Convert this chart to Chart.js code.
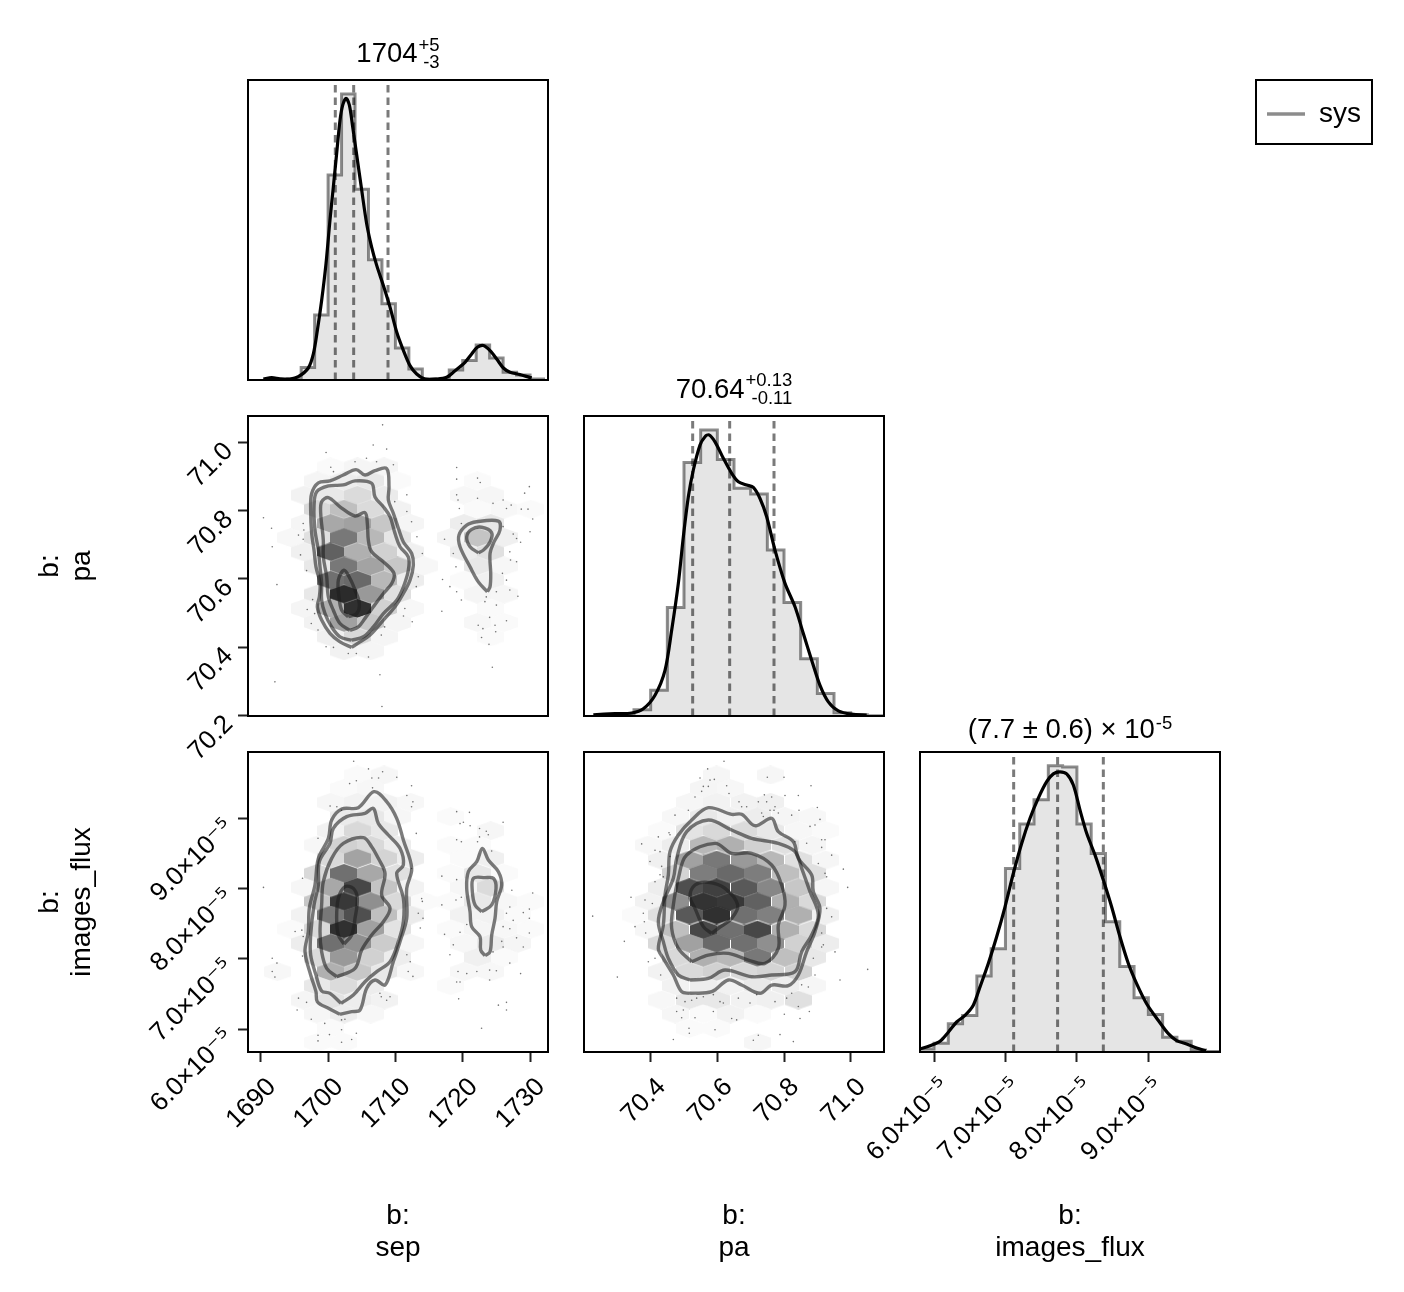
<!DOCTYPE html>
<html>
<head>
<meta charset="utf-8">
<title>corner plot</title>
<script src="https://cdn.jsdelivr.net/npm/chart.js@4/dist/chart.umd.js"></script>
<style>
  @font-face { font-family: "SupGlyphs"; src: local("DejaVu Sans"); unicode-range: U+2070-209F; }
  html, body { margin: 0; padding: 0; background: #fff; }
  body { width: 1404px; height: 1292px; position: relative; overflow: hidden; }
  canvas.panel { position: absolute; left: 0; top: 0; }
  #legendWrap { position: absolute; left: 1255px; top: 79px; width: 114px; height: 62px; border: 2px solid #000; overflow: hidden; }
</style>
</head>
<body>
<canvas class="panel" id="sepHistCanvas" width="1404" height="1292"></canvas>
<canvas class="panel" id="sepPaCanvas" width="1404" height="1292"></canvas>
<canvas class="panel" id="paHistCanvas" width="1404" height="1292"></canvas>
<canvas class="panel" id="sepFluxCanvas" width="1404" height="1292"></canvas>
<canvas class="panel" id="paFluxCanvas" width="1404" height="1292"></canvas>
<canvas class="panel" id="fluxHistCanvas" width="1404" height="1292"></canvas>
<div id="legendWrap"><canvas id="legendBox" width="114" height="124"></canvas></div>
<script>
// flux values are all in units of 1e-5
const sepTicks = [1690, 1700, 1710, 1720, 1730];
const sepTickLabels = ['1690', '1700', '1710', '1720', '1730'];
const paTicks = [70.2, 70.4, 70.6, 70.8, 71.0];
const paTickLabels = ['70.2', '70.4', '70.6', '70.8', '71.0'];
const paXTicks = [70.4, 70.6, 70.8, 71.0];
const paXTickLabels = ['70.4', '70.6', '70.8', '71.0'];
const fluxTicks = [6, 7, 8, 9];
const fluxTickLabels = ['6.0×10⁻⁵', '7.0×10⁻⁵', '8.0×10⁻⁵', '9.0×10⁻⁵'];

const sepTitle = ['1704', '+5', '-3'];
const paTitle = ['70.64', '+0.13', '-0.11'];
const fluxTitle = ['(7.7 ± 0.6) × 10', '-5', ''];
const sepAxisTitle = ['b:', 'sep'];
const paAxisTitle = ['b:', 'pa'];
const fluxAxisTitle = ['b:', 'images_flux'];
const seriesName = 'sys';

const sepQuantiles = [1701.07, 1703.8, 1708.9];
const paQuantiles = [70.526, 70.637, 70.77];
const fluxQuantiles = [7.115, 7.73, 8.37];

const sepEdges = [1694, 1696, 1698, 1700, 1702, 1704, 1706, 1708, 1710, 1712, 1714, 1716, 1718, 1720, 1722, 1724, 1726, 1728, 1730, 1732];
const sepHist = [.003, .042, .217, .683, .953, .636, .401, .254, .107, .037, .004, .002, .033, .065, .117, .073, .026, .017, .003];
const paEdges = [70.3, 70.35, 70.4, 70.45, 70.5, 70.55, 70.6, 70.65, 70.7, 70.75, 70.8, 70.85, 70.9, 70.95, 71.0, 71.05, 71.1];
const paHist = [.002, .021, .086, .362, .845, .953, .855, .759, .74, .553, .378, .191, .075, .011, .004, .001];
const fluxEdges = [5.8, 6.0, 6.2, 6.4, 6.6, 6.8, 7.0, 7.2, 7.4, 7.6, 7.8, 8.0, 8.2, 8.4, 8.6, 8.8, 9.0, 9.2, 9.4, 9.6, 9.8, 10.0];
const fluxHist = [.01, .029, .094, .122, .253, .344, .612, .76, .841, .954, .95, .76, .662, .434, .285, .181, .125, .049, .036, .007, .002];

const sepKde = [[1690.38,.003],[1691.62,.008],[1692.85,.004],[1694.34,.003],[1695.58,.011],[1697.06,.04],[1697.81,.087],[1698.4,.165],[1699.04,.265],[1699.69,.388],[1700.28,.533],[1700.78,.644],[1701.27,.755],[1701.77,.866],[1702.17,.916],[1702.66,.939],[1703.16,.916],[1703.65,.844],[1704.25,.75],[1704.99,.633],[1705.73,.521],[1706.47,.443],[1707.22,.382],[1708.21,.315],[1709.2,.243],[1710.19,.16],[1711.18,.099],[1712.17,.048],[1713.16,.02],[1714.4,.003],[1716.13,.003],[1717.62,.009],[1718.86,.031],[1720.34,.059],[1721.33,.087],[1722.17,.109],[1723.07,.115],[1724.06,.098],[1725.05,.07],[1726.04,.04],[1727.03,.026],[1728.51,.018],[1730.25,.007]];
const paKde = [[70.228,.004],[70.293,.008],[70.343,.01],[70.378,.024],[70.413,.069],[70.443,.152],[70.463,.286],[70.483,.442],[70.498,.597],[70.513,.731],[70.528,.82],[70.548,.903],[70.563,.931],[70.575,.937],[70.593,.914],[70.618,.859],[70.643,.809],[70.663,.781],[70.688,.77],[70.708,.762],[70.728,.725],[70.748,.664],[70.773,.553],[70.803,.442],[70.833,.364],[70.858,.275],[70.883,.186],[70.908,.102],[70.933,.047],[70.963,.017],[71.003,.006],[71.048,.003]];
const fluxKde = [[5.804,.01],[5.944,.021],[6.084,.036],[6.2,.066],[6.317,.1],[6.434,.122],[6.55,.156],[6.644,.217],[6.76,.295],[6.877,.384],[6.994,.484],[7.11,.595],[7.227,.695],[7.344,.779],[7.46,.846],[7.577,.901],[7.67,.927],[7.763,.934],[7.857,.927],[7.95,.89],[8.043,.807],[8.137,.729],[8.253,.657],[8.37,.573],[8.486,.484],[8.603,.384],[8.72,.295],[8.836,.228],[8.976,.161],[9.14,.105],[9.28,.061],[9.396,.038],[9.536,.027],[9.676,.013],[9.807,.004]];

// contours, outermost first, then the small second mode near sep 1723
const sepPaContour1 = [[1703.5,70.399],[1701.77,70.415],[1700.28,70.44],[1699.04,70.479],[1698.4,70.518],[1698.7,70.547],[1698.8,70.586],[1698.2,70.635],[1697.91,70.684],[1697.56,70.733],[1697.41,70.801],[1697.56,70.85],[1698.55,70.881],[1700.28,70.887],[1702.26,70.904],[1704.15,70.92],[1705.48,70.904],[1706.97,70.917],[1708.7,70.923],[1709.05,70.87],[1708.95,70.831],[1709.69,70.792],[1710.44,70.748],[1711.18,70.708],[1712.42,70.674],[1712.67,70.64],[1712.17,70.596],[1711.18,70.557],[1709.94,70.518],[1708.21,70.479],[1706.23,70.435],[1704.74,70.415]];
const sepPaContour2 = [[1703.5,70.42],[1701.77,70.43],[1700.53,70.459],[1699.54,70.498],[1699.04,70.537],[1699.04,70.586],[1698.8,70.635],[1698.55,70.684],[1698.05,70.743],[1697.91,70.811],[1698.3,70.855],[1700.04,70.872],[1702.26,70.875],[1704,70.887],[1706.47,70.88],[1706.97,70.84],[1708.21,70.811],[1709.2,70.782],[1709.94,70.733],[1710.68,70.694],[1711.92,70.664],[1711.92,70.625],[1711.18,70.576],[1710.19,70.537],[1708.21,70.498],[1706.72,70.459],[1705.24,70.43]];
const sepPaContour3 = [[1703.25,70.449],[1701.77,70.469],[1700.78,70.508],[1700.04,70.547],[1699.79,70.606],[1699.29,70.664],[1699.29,70.713],[1698.9,70.792],[1699.04,70.826],[1700.04,70.838],[1701.77,70.811],[1704,70.784],[1705.48,70.794],[1705.83,70.762],[1705.98,70.713],[1706.47,70.679],[1708.21,70.65],[1709.79,70.616],[1709.45,70.586],[1708.21,70.557],[1706.72,70.518],[1705.48,70.484],[1704.49,70.459]];
const sepPaContour4 = [[1703,70.489],[1702.02,70.508],[1701.62,70.547],[1701.52,70.596],[1702.36,70.625],[1703.25,70.601],[1704,70.567],[1704.64,70.528],[1704.25,70.498]];
const sepPaContour5 = [[1723.66,70.562],[1722.32,70.591],[1721.09,70.635],[1719.6,70.694],[1719.45,70.728],[1720.59,70.757],[1722.08,70.767],[1725.3,70.769],[1725.54,70.743],[1724.65,70.708],[1724.06,70.674],[1724.16,70.616],[1724.06,70.577]];
const sepPaContour6 = [[1722.32,70.676],[1721.09,70.694],[1720.59,70.723],[1721.33,70.745],[1722.82,70.751],[1724.31,70.735],[1724.06,70.708],[1723.07,70.684]];

const sepFluxContour1 = [[1701.77,6.209],[1700.04,6.295],[1698.4,6.39],[1698.2,6.532],[1697.41,6.77],[1696.57,7.103],[1697.06,7.388],[1697.21,7.721],[1698.05,8.054],[1698.55,8.434],[1700.04,8.72],[1700.53,8.981],[1702.02,9.138],[1704.49,9.157],[1706.82,9.385],[1708.7,9.243],[1710.19,9.005],[1711.18,8.696],[1712.42,8.292],[1711.68,8.006],[1711.68,7.578],[1710.68,7.246],[1709.69,6.96],[1708.46,6.627],[1706.97,6.699],[1705.73,6.58],[1704.74,6.271],[1703.5,6.247]];
const sepFluxContour2 = [[1701.92,6.366],[1700.28,6.509],[1699.04,6.542],[1698.2,6.77],[1697.41,7.055],[1697.41,7.341],[1697.91,7.769],[1698.55,8.054],[1698.7,8.387],[1700.28,8.648],[1700.78,8.862],[1702.76,9.029],[1705.48,9.076],[1706.72,9.148],[1707.46,8.934],[1708.95,8.767],[1710.68,8.577],[1711.18,8.339],[1710.19,8.22],[1711.18,7.864],[1711.18,7.531],[1710.44,7.246],[1709.2,6.96],[1707.22,6.818],[1705.48,6.675],[1703.75,6.485]];
const sepFluxContour3 = [[1701.27,6.746],[1699.79,6.865],[1699.04,7.103],[1698.8,7.388],[1699.04,7.769],[1699.29,8.101],[1700.53,8.434],[1702.26,8.648],[1705.24,8.729],[1706.47,8.601],[1707.46,8.434],[1708.46,8.22],[1707.96,7.911],[1709.2,7.721],[1708.21,7.531],[1706.47,7.341],[1704.99,7.127],[1704,6.865]];
const sepFluxContour4 = [[1702.36,7.212],[1701.52,7.341],[1701.27,7.578],[1701.52,7.864],[1702.51,8.03],[1703.75,8.006],[1704.34,7.864],[1704,7.578],[1703.5,7.341]];
const sepFluxContour5 = [[1723.31,7.046],[1722.67,7.127],[1722.57,7.317],[1721.33,7.46],[1721.09,7.673],[1720.59,8.006],[1720.84,8.244],[1722.08,8.387],[1722.92,8.577],[1723.81,8.41],[1725.3,8.244],[1725.79,8.054],[1725.05,7.816],[1724.8,7.578],[1724.31,7.341],[1724.06,7.103]];
const sepFluxContour6 = [[1722.82,7.673],[1721.83,7.769],[1721.43,7.959],[1721.58,8.149],[1723.31,8.159],[1724.55,8.149],[1724.95,8.006],[1724.31,7.769]];

const paFluxContour1 = [[70.518,6.509],[70.493,6.532],[70.468,6.77],[70.438,7.008],[70.423,7.15],[70.438,7.483],[70.443,7.911],[70.453,8.197],[70.458,8.529],[70.483,8.767],[70.523,8.981],[70.573,9.157],[70.643,9.062],[70.673,9.062],[70.713,8.9],[70.763,9.005],[70.783,8.815],[70.828,8.672],[70.843,8.434],[70.883,8.197],[70.888,7.959],[70.908,7.721],[70.893,7.388],[70.868,7.103],[70.843,6.77],[70.813,6.618],[70.763,6.627],[70.728,6.509],[70.673,6.627],[70.633,6.699],[70.583,6.532]];
const paFluxContour2 = [[70.518,6.699],[70.483,6.77],[70.453,7.008],[70.438,7.246],[70.423,7.531],[70.438,7.816],[70.468,8.149],[70.478,8.434],[70.508,8.815],[70.573,8.981],[70.643,8.838],[70.703,8.72],[70.783,8.648],[70.833,8.529],[70.853,8.292],[70.878,7.959],[70.903,7.626],[70.883,7.341],[70.853,7.103],[70.833,6.818],[70.763,6.77],[70.703,6.746],[70.623,6.841],[70.573,6.722]];
const paFluxContour3 = [[70.523,6.96],[70.483,7.15],[70.463,7.436],[70.468,7.769],[70.483,8.149],[70.508,8.482],[70.593,8.648],[70.643,8.506],[70.703,8.506],[70.763,8.339],[70.793,8.054],[70.803,7.769],[70.783,7.483],[70.783,7.15],[70.743,6.936],[70.693,6.984],[70.633,7.079],[70.573,7.055]];
const paFluxContour4 = [[70.583,7.364],[70.558,7.46],[70.533,7.721],[70.518,7.887],[70.533,8.054],[70.573,8.092],[70.623,8.006],[70.661,7.769],[70.643,7.578],[70.603,7.436]];

// hexbin cells: x, y, darkness (0 white .. 1 black)
const sepPaHex = [
  [1700.38,70.928,.02],[1704.34,70.928,.04],[1708.31,70.928,.04],
  [1698.4,70.887,.04],[1702.36,70.887,.07],[1706.33,70.887,.09],[1710.29,70.887,.02],
  [1696.42,70.845,.05],[1700.38,70.845,.09],[1704.34,70.845,.14],[1708.31,70.845,.08],
  [1698.4,70.804,.15],[1702.36,70.804,.25],[1706.33,70.804,.14],[1710.29,70.804,.05],
  [1696.42,70.762,.04],[1700.38,70.762,.34],[1704.34,70.762,.37],[1708.31,70.762,.22],[1712.27,70.762,.04],
  [1694.44,70.721,.03],[1698.4,70.721,.12],[1702.36,70.721,.53],[1706.33,70.721,.28],[1710.29,70.721,.1],
  [1696.42,70.679,.06],[1700.38,70.679,.62],[1704.34,70.679,.31],[1708.31,70.679,.18],[1712.27,70.679,.06],
  [1698.4,70.638,.09],[1702.36,70.638,.53],[1706.33,70.638,.36],[1710.29,70.638,.22],[1714.25,70.638,.03],
  [1700.38,70.596,.56],[1704.34,70.596,.59],[1708.31,70.596,.28],[1712.27,70.596,.07],
  [1698.4,70.555,.09],[1702.36,70.555,.83],[1706.33,70.555,.4],[1710.29,70.555,.12],
  [1696.42,70.513,.04],[1700.38,70.513,.31],[1704.34,70.513,.81],[1708.31,70.513,.18],[1712.27,70.513,.03],
  [1698.4,70.472,.05],[1702.36,70.472,.37],[1706.33,70.472,.22],[1710.29,70.472,.04],
  [1700.38,70.43,.06],[1704.34,70.43,.15],[1708.31,70.43,.04],
  [1702.36,70.389,.05],[1706.33,70.389,.04],
  [1722.17,70.887,.02],[1720.19,70.845,.03],[1724.16,70.845,.035],[1722.17,70.804,.02],[1726.14,70.804,.03],[1730.1,70.804,.02],
  [1720.19,70.762,.07],[1724.16,70.762,.09],[1718.21,70.721,.04],[1722.17,70.721,.23],[1726.14,70.721,.06],
  [1720.19,70.679,.07],[1724.16,70.679,.12],[1722.17,70.638,.09],[1726.14,70.638,.03],
  [1720.19,70.596,.02],[1724.16,70.596,.06],[1722.17,70.555,.04],[1726.14,70.555,.035],
  [1724.16,70.513,.02],[1722.17,70.472,.03],[1726.14,70.472,.02],[1724.16,70.43,.02]
];
const sepFluxHex = [
  [1704.34,9.623,.02],[1708.31,9.623,.035],[1702.36,9.433,.02],[1706.33,9.433,.03],
  [1700.38,9.233,.035],[1704.34,9.233,.05],[1708.31,9.233,.05],[1712.27,9.233,.03],
  [1702.36,9.029,.08],[1706.33,9.029,.09],[1710.29,9.029,.035],
  [1700.38,8.829,.05],[1704.34,8.829,.15],[1708.31,8.829,.09],
  [1698.4,8.624,.03],[1702.36,8.624,.18],[1706.33,8.624,.15],[1710.29,8.624,.07],
  [1700.38,8.434,.15],[1704.34,8.434,.36],[1708.31,8.434,.17],[1712.27,8.434,.07],
  [1698.4,8.22,.15],[1702.36,8.22,.56],[1706.33,8.22,.34],[1710.29,8.22,.12],
  [1696.42,8.021,.035],[1700.38,8.021,.34],[1704.34,8.021,.72],[1708.31,8.021,.23],[1712.27,8.021,.05],
  [1698.4,7.816,.22],[1702.36,7.816,.78],[1706.33,7.816,.44],[1710.29,7.816,.15],[1714.25,7.816,.02],
  [1696.42,7.626,.05],[1700.38,7.626,.53],[1704.34,7.626,.69],[1708.31,7.626,.25],[1712.27,7.626,.08],
  [1694.44,7.426,.02],[1698.4,7.426,.15],[1702.36,7.426,.81],[1706.33,7.426,.37],[1710.29,7.426,.11],
  [1696.42,7.222,.07],[1700.38,7.222,.56],[1704.34,7.222,.44],[1708.31,7.222,.2],[1712.27,7.222,.035],
  [1698.4,7.022,.14],[1702.36,7.022,.4],[1706.33,7.022,.18],[1710.29,7.022,.07],
  [1692.46,6.818,.03],[1700.38,6.818,.31],[1704.34,6.818,.22],[1708.31,6.818,.09],[1712.27,6.818,.03],
  [1698.4,6.618,.09],[1702.36,6.618,.14],[1706.33,6.618,.07],
  [1696.42,6.413,.04],[1700.38,6.413,.11],[1704.34,6.413,.07],[1708.31,6.413,.05],
  [1698.4,6.214,.035],[1702.36,6.214,.07],[1706.33,6.214,.03],
  [1700.38,6.009,.02],[1698.4,5.809,.02],[1702.36,5.809,.02],
  [1718.21,9.029,.02],[1724.16,8.829,.035],[1718.21,8.624,.02],[1722.17,8.624,.02],
  [1720.19,8.434,.02],[1724.16,8.434,.06],[1718.21,8.22,.02],[1722.17,8.22,.09],[1726.14,8.22,.02],
  [1720.19,8.021,.035],[1724.16,8.021,.14],[1718.21,7.816,.02],[1722.17,7.816,.09],[1726.14,7.816,.03],[1730.1,7.816,.02],
  [1720.19,7.626,.05],[1724.16,7.626,.05],[1728.12,7.626,.02],
  [1718.21,7.426,.02],[1722.17,7.426,.04],[1726.14,7.426,.03],[1730.1,7.426,.02],
  [1720.19,7.222,.03],[1724.16,7.222,.08],[1728.12,7.222,.04],[1722.17,7.022,.06],[1726.14,7.022,.02],
  [1720.19,6.818,.03],[1724.16,6.818,.03],[1718.21,6.618,.02]
];
const paFluxHex = [
  [70.598,9.623,.035],[70.76,9.623,.035],[70.558,9.433,.04],[70.638,9.433,.03],
  [70.516,9.233,.035],[70.598,9.233,.05],[70.68,9.233,.05],[70.76,9.233,.06],
  [70.475,9.029,.03],[70.558,9.029,.09],[70.638,9.029,.06],[70.72,9.029,.07],[70.803,9.029,.04],[70.885,9.029,.03],
  [70.433,8.829,.02],[70.516,8.829,.11],[70.598,8.829,.15],[70.68,8.829,.14],[70.76,8.829,.09],[70.843,8.829,.03],[70.925,8.829,.02],
  [70.393,8.624,.03],[70.475,8.624,.07],[70.558,8.624,.28],[70.638,8.624,.31],[70.72,8.624,.18],[70.803,8.624,.12],[70.885,8.624,.04],
  [70.433,8.41,.06],[70.516,8.41,.37],[70.598,8.41,.53],[70.68,8.41,.4],[70.76,8.41,.28],[70.843,8.41,.12],[70.925,8.41,.035],
  [70.475,8.22,.17],[70.558,8.22,.51],[70.638,8.22,.59],[70.72,8.22,.51],[70.803,8.22,.25],[70.885,8.22,.12],
  [70.433,8.016,.07],[70.516,8.016,.69],[70.598,8.016,.75],[70.68,8.016,.65],[70.76,8.016,.47],[70.843,8.016,.22],[70.925,8.016,.035],
  [70.393,7.816,.05],[70.475,7.816,.44],[70.558,7.816,.8],[70.638,7.816,.78],[70.72,7.816,.62],[70.803,7.816,.31],[70.885,7.816,.15],
  [70.353,7.626,.02],[70.433,7.626,.12],[70.516,7.626,.65],[70.598,7.626,.81],[70.68,7.626,.56],[70.76,7.626,.5],[70.843,7.626,.31],[70.925,7.626,.06],
  [70.393,7.412,.035],[70.475,7.412,.25],[70.558,7.412,.72],[70.638,7.412,.56],[70.72,7.412,.72],[70.803,7.412,.31],[70.885,7.412,.15],
  [70.433,7.222,.15],[70.516,7.222,.37],[70.598,7.222,.59],[70.68,7.222,.56],[70.76,7.222,.44],[70.843,7.222,.18],[70.925,7.222,.07],
  [70.475,7.022,.15],[70.558,7.022,.31],[70.638,7.022,.28],[70.72,7.022,.53],[70.803,7.022,.25],[70.885,7.022,.09],
  [70.433,6.818,.05],[70.516,6.818,.15],[70.598,6.818,.18],[70.68,6.818,.15],[70.76,6.818,.17],[70.843,6.818,.18],
  [70.475,6.618,.05],[70.558,6.618,.07],[70.638,6.618,.05],[70.72,6.618,.09],[70.803,6.618,.07],[70.885,6.618,.035],
  [70.433,6.413,.03],[70.516,6.413,.09],[70.598,6.413,.09],[70.68,6.413,.05],[70.76,6.413,.06],[70.843,6.413,.12],
  [70.475,6.214,.035],[70.558,6.214,.02],[70.638,6.214,.05],[70.72,6.214,.02],
  [70.516,6.009,.02],[70.598,6.009,.02],[70.72,5.809,.035]
];

// single posterior samples outside the contours
const sepPaDots = [[1708.1,71.051],[1706.7,70.992],[1708.7,70.98],[1699.7,70.97],[1705.7,70.953],[1704,70.943],[1709.7,70.934],[1700.4,70.927],[1700.8,70.914],[1707.2,70.943],[1690.4,70.779],[1691.6,70.748],[1691.7,70.694],[1696.3,70.762],[1696.4,70.743],[1695.6,70.728],[1696.3,70.716],[1695.9,70.67],[1692.4,70.583],[1696.8,70.624],[1697.7,70.539],[1696.9,70.51],[1698,70.498],[1697.5,70.469],[1698.5,70.45],[1699.7,70.401],[1700.8,70.399],[1703,70.381],[1704.2,70.381],[1706,70.371],[1707.7,70.319],[1692.1,70.298],[1708,70.226],[1711.7,70.846],[1709.9,70.826],[1711.7,70.797],[1712.4,70.767],[1713.2,70.723],[1714,70.674],[1713.4,70.606],[1713.1,70.577],[1711.4,70.513],[1711.2,70.491],[1712.5,70.474],[1708.4,70.459],[1707.9,70.435],[1719.1,70.926],[1719.1,70.892],[1722.2,70.895],[1722.6,70.882],[1729.9,70.87],[1729.2,70.851],[1719.1,70.846],[1719.3,70.831],[1719.5,70.806],[1722.2,70.836],[1724.5,70.821],[1726,70.831],[1727.2,70.816],[1726.5,70.806],[1728.7,70.804],[1729.7,70.804],[1730.4,70.775],[1719.8,70.762],[1726,70.753],[1717.3,70.716],[1727.5,70.731],[1730,70.738],[1728,70.718],[1728.6,70.707],[1718.6,70.674],[1727,70.679],[1727.1,70.655],[1719,70.635],[1728,70.65],[1725.9,70.616],[1717,70.598],[1726.5,70.596],[1718.1,70.577],[1719.1,70.562],[1719.8,70.538],[1727,70.567],[1728.2,70.549],[1725,70.562],[1723.5,70.547],[1723.3,70.533],[1725,70.523],[1716.9,70.505],[1724,70.487],[1726.5,70.477],[1722.3,70.464],[1723,70.454],[1724.8,70.464],[1724.9,70.445],[1722.8,70.428],[1723.9,70.408],[1724.4,70.341]];
const sepFluxDots = [[1703.8,9.82],[1706,9.71],[1708.1,9.67],[1707.5,9.58],[1706.5,9.58],[1704.2,9.54],[1703.2,9.5],[1710.2,9.59],[1712.4,9.47],[1706.6,9.44],[1711.7,9.33],[1712.6,9.24],[1712.4,9.17],[1700.3,9.18],[1702,9.12],[1701.3,9.17],[1713.1,8.79],[1698.5,8.72],[1690.4,8.02],[1696.2,8.15],[1691.7,7.01],[1692.4,6.94],[1691.7,6.82],[1692.1,6.74],[1696.1,7.41],[1695.1,7.39],[1696.3,7.32],[1696.2,7.04],[1713.9,7.86],[1714,7.82],[1713.4,7.65],[1714.1,7.58],[1713.7,7.44],[1712.4,8.29],[1711.7,7.06],[1712.2,6.96],[1711.9,6.82],[1712.6,6.75],[1707.7,6.51],[1707.9,6.46],[1709.2,6.46],[1708.7,6.41],[1695.6,6.44],[1696.8,6.38],[1695.4,6.27],[1697.5,6.14],[1699.5,6.08],[1702,6.13],[1702.5,6.14],[1704.2,5.94],[1702,5.99],[1700.2,5.92],[1698.5,5.91],[1698.5,5.83],[1703.5,5.85],[1702,5.81],[1719.1,9.1],[1721,9.09],[1719.6,8.93],[1720.1,8.95],[1721.1,8.9],[1722.5,8.86],[1723.5,8.82],[1726,8.95],[1722.5,8.74],[1723.8,8.77],[1719.1,8.7],[1719.8,8.67],[1722.2,8.67],[1724.3,8.54],[1716.9,8.18],[1719.1,8.13],[1727.3,7.98],[1730.4,7.94],[1719.8,7.88],[1719,7.84],[1716.9,7.77],[1727,7.74],[1729.9,7.71],[1726.5,7.65],[1729,7.66],[1727.5,7.55],[1729.9,7.58],[1720.6,7.49],[1719.6,7.38],[1717.3,7.35],[1726,7.46],[1727,7.43],[1728,7.3],[1729.9,7.37],[1725.8,7.25],[1726,7.17],[1718.6,7.2],[1724.5,7.1],[1729,7.17],[1718.1,7.06],[1727,6.94],[1719.3,6.82],[1720.6,6.79],[1722.1,6.82],[1724,6.84],[1725,6.83],[1728.6,6.79],[1724,6.7],[1719.1,6.67],[1719.6,6.67],[1719.4,6.43],[1725.3,6.34],[1726.5,6.38],[1726.5,6.27],[1722.8,6.01]];
const paFluxDots = [[70.62,9.82],[70.571,9.71],[70.548,9.58],[70.578,9.55],[70.591,9.56],[70.75,9.59],[70.8,9.59],[70.881,9.47],[70.558,9.46],[70.573,9.46],[70.628,9.47],[70.553,9.39],[70.533,9.31],[70.635,9.36],[70.741,9.34],[70.763,9.31],[70.803,9.33],[70.843,9.33],[70.665,9.24],[70.673,9.17],[70.688,9.17],[70.723,9.24],[70.748,9.24],[70.773,9.17],[70.77,9.12],[70.783,9.08],[70.733,9.08],[70.758,9.12],[70.738,9.03],[70.823,9.05],[70.9,9.16],[70.908,8.99],[70.845,9.12],[70.513,9.12],[70.473,9.05],[70.893,8.91],[70.878,8.89],[70.455,8.8],[70.458,8.77],[70.423,8.74],[70.373,8.64],[70.413,8.55],[70.428,8.53],[70.398,8.39],[70.458,8.46],[70.433,8.32],[70.428,8.2],[70.438,8.17],[70.833,8.67],[70.868,8.65],[70.913,8.7],[70.923,8.7],[70.913,8.59],[70.943,8.48],[70.903,8.36],[70.978,8.28],[70.923,8.22],[70.928,8.17],[70.991,8.02],[70.413,8.1],[70.341,7.88],[70.383,7.84],[70.405,7.79],[70.378,7.65],[70.381,7.53],[70.226,7.61],[70.353,7.46],[70.385,7.37],[70.321,7.25],[70.393,6.96],[70.43,6.77],[70.3,6.74],[70.413,7.01],[70.928,7.72],[70.943,7.6],[70.913,7.37],[70.918,7.2],[70.953,7.1],[70.888,7.01],[70.913,7.17],[71.051,6.85],[70.968,6.7],[70.893,6.77],[70.873,6.6],[70.853,6.63],[70.823,6.51],[70.808,6.44],[70.843,6.32],[70.801,6.21],[70.876,6.25],[70.848,6.15],[70.503,6.39],[70.523,6.41],[70.538,6.44],[70.478,6.44],[70.498,6.27],[70.478,6.25],[70.493,6.16],[70.533,6.16],[70.515,6.01],[70.516,5.94],[70.468,5.85],[70.558,6.46],[70.588,6.49],[70.618,6.37],[70.663,6.44],[70.698,6.37],[70.718,6.49],[70.773,6.39],[70.588,6.25],[70.643,6.15],[70.658,6.13],[70.608,6.39],[70.708,5.84],[70.723,5.91],[70.788,5.92],[70.828,5.82],[70.593,5.99]];

// axis limits
const sepRange = [1688.1, 1732.67];
const paYRange = [70.198, 71.077];
const paXRange = [70.2, 71.1];
const fluxYRange = [5.672, 9.951];
const fluxXRange = [5.804, 10.003];

const FONT = '"SupGlyphs", "Liberation Sans", Arial, sans-serif';
const panelSize = 300;
const contourColor = 'rgba(30,30,30,0.58)';

Chart.defaults.font.family = FONT;
Chart.defaults.color = '#000';

var hexCache = {};
function hexImage(darkness) {
    if (hexCache[darkness]) return hexCache[darkness];
    var c = document.createElement('canvas');
    c.width = 27;
    c.height = 19;
    var g = c.getContext('2d');
    var v = Math.round(255 * (1 - darkness));
    g.fillStyle = 'rgb(' + v + ',' + v + ',' + v + ')';
    g.beginPath();
    g.moveTo(13.5, 0);
    g.lineTo(27, 4.75);
    g.lineTo(27, 14.25);
    g.lineTo(13.5, 19);
    g.lineTo(0, 14.25);
    g.lineTo(0, 4.75);
    g.closePath();
    g.fill();
    hexCache[darkness] = c;
    return c;
}

function toXY(pairs) {
    return pairs.map(function(p) { return {x: p[0], y: p[1]}; });
}

function contourSet(pairs) {
    return {
        data: toXY(pairs.concat([pairs[0]])),
        showLine: true,
        pointRadius: 0,
        borderColor: contourColor,
        borderWidth: 3.4,
        tension: 0.35,
        fill: false
    };
}

function dotSet(pairs) {
    return {
        data: toXY(pairs),
        pointRadius: 0.8,
        borderWidth: 0,
        backgroundColor: 'rgba(0,0,0,0.55)'
    };
}

function hexSet(cells) {
    return {
        data: cells.map(function(c) { return {x: c[0], y: c[1], d: c[2]}; }),
        pointRadius: 13,
        pointStyle: function(ctx) { return hexImage(ctx.raw.d); }
    };
}

function histSets(edges, heights, kde, quantiles) {
    var steps = [{x: edges[0], y: 0}];
    heights.forEach(function(h, i) { steps.push({x: edges[i], y: h}); });
    steps.push({x: edges[edges.length - 1], y: 0});
    var sets = [{
        data: toXY(kde),
        showLine: true,
        pointRadius: 0,
        borderColor: '#000',
        borderWidth: 3.2,
        tension: 0.3
    }];
    quantiles.forEach(function(q) {
        sets.push({
            data: [{x: q, y: 0}, {x: q, y: 1}],
            showLine: true,
            pointRadius: 0,
            borderColor: 'rgba(0,0,0,0.52)',
            borderWidth: 3,
            borderDash: [7.5, 5]
        });
    });
    sets.push({
        data: steps,
        showLine: true,
        stepped: true,
        pointRadius: 0,
        borderColor: 'rgba(0,0,0,0.45)',
        borderWidth: 3,
        fill: 'origin',
        backgroundColor: 'rgba(0,0,0,0.1)'
    });
    return sets;
}

// frame around the plot area, plus the stacked title with +/- errors
function framePlugin(title, base, supUp, subDown) {
    return {
        id: 'frame',
        afterDraw: function(chart) {
            var a = chart.chartArea;
            var ctx = chart.ctx;
            ctx.save();
            ctx.strokeStyle = '#000';
            ctx.lineWidth = 2;
            ctx.strokeRect(a.left, a.top, a.right - a.left, a.bottom - a.top);
            if (title) {
                ctx.fillStyle = '#000';
                ctx.textBaseline = 'alphabetic';
                ctx.font = '27.5px ' + FONT;
                var mainW = ctx.measureText(title[0]).width;
                ctx.font = '18.5px ' + FONT;
                var smallW = Math.max(ctx.measureText(title[1]).width, ctx.measureText(title[2]).width);
                var x0 = (a.left + a.right) / 2 - (mainW + 1 + smallW) / 2;
                var y0 = a.top - base;
                ctx.textAlign = 'left';
                ctx.font = '27.5px ' + FONT;
                ctx.fillText(title[0], x0, y0);
                ctx.textAlign = 'right';
                ctx.font = '18.5px ' + FONT;
                ctx.fillText(title[1], x0 + mainW + 1 + smallW, y0 - supUp);
                ctx.fillText(title[2], x0 + mainW + 1 + smallW, y0 + subDown);
            }
            ctx.restore();
        }
    };
}

function axisOptions(range, ticks, labels, axisTitle, isX) {
    var opts = {
        type: 'linear',
        min: range[0],
        max: range[1],
        display: !!ticks
    };
    if (!ticks) return opts;
    opts.afterBuildTicks = function(scale) {
        scale.ticks = ticks.map(function(v) { return {value: v}; });
    };
    if (isX) {
        opts.afterFit = function(scale) { scale.height = 212; };
    } else {
        opts.afterFit = function(scale) { scale.width = 214; };
    }
    opts.grid = {drawOnChartArea: false, drawTicks: true, tickLength: 10, tickWidth: 2, tickColor: '#222'};
    opts.border = {display: false};
    opts.ticks = {
        autoSkip: false,
        minRotation: 45,
        maxRotation: 45,
        padding: isX ? 10 : 9,
        labelOffset: isX ? 11 : 5,
        color: '#000',
        font: {size: 26},
        callback: function(v, i) { return labels[i]; }
    };
    opts.title = {
        display: true,
        text: axisTitle,
        color: '#000',
        font: {size: 28, lineHeight: 32 / 28},
        padding: 0
    };
    return opts;
}

function makePanel(id, left, top, xAxis, yAxis, datasets, plugin) {
    var hasX = xAxis.display;
    var hasY = yAxis.display;
    return new Chart(document.getElementById(id), {
        type: 'scatter',
        data: {datasets: datasets},
        options: {
            responsive: false,
            animation: false,
            events: [],
            layout: {
                padding: {
                    left: left - (hasY ? 214 : 0),
                    top: top,
                    right: 1404 - left - panelSize,
                    bottom: 1292 - top - panelSize - (hasX ? 212 : 0)
                }
            },
            plugins: {legend: {display: false}, tooltip: {enabled: false}},
            scales: {x: xAxis, y: yAxis}
        },
        plugins: [plugin]
    });
}

function drawAll() {
    var histY = {type: 'linear', min: 0, max: 1, display: false};

    makePanel('sepHistCanvas', 248, 80,
        axisOptions(sepRange), histY,
        histSets(sepEdges, sepHist, sepKde, sepQuantiles),
        framePlugin(sepTitle, 18, 11, 5.5));

    makePanel('paHistCanvas', 584, 416,
        axisOptions(paXRange), histY,
        histSets(paEdges, paHist, paKde, paQuantiles),
        framePlugin(paTitle, 18, 12, 5.5));

    makePanel('fluxHistCanvas', 920, 752,
        axisOptions(fluxXRange, fluxTicks, fluxTickLabels, fluxAxisTitle, true), histY,
        histSets(fluxEdges, fluxHist, fluxKde, fluxQuantiles),
        framePlugin(fluxTitle, 14, 9.5, 0));

    makePanel('sepPaCanvas', 248, 416,
        axisOptions(sepRange),
        axisOptions(paYRange, paTicks, paTickLabels, paAxisTitle, false),
        [sepPaContour1, sepPaContour2, sepPaContour3, sepPaContour4, sepPaContour5, sepPaContour6].map(contourSet)
            .concat([dotSet(sepPaDots), hexSet(sepPaHex)]),
        framePlugin());

    makePanel('sepFluxCanvas', 248, 752,
        axisOptions(sepRange, sepTicks, sepTickLabels, sepAxisTitle, true),
        axisOptions(fluxYRange, fluxTicks, fluxTickLabels, fluxAxisTitle, false),
        [sepFluxContour1, sepFluxContour2, sepFluxContour3, sepFluxContour4, sepFluxContour5, sepFluxContour6].map(contourSet)
            .concat([dotSet(sepFluxDots), hexSet(sepFluxHex)]),
        framePlugin());

    makePanel('paFluxCanvas', 584, 752,
        axisOptions(paXRange, paXTicks, paXTickLabels, paAxisTitle, true),
        axisOptions(fluxYRange),
        [paFluxContour1, paFluxContour2, paFluxContour3, paFluxContour4].map(contourSet)
            .concat([dotSet(paFluxDots), hexSet(paFluxHex)]),
        framePlugin());

    // legend
    new Chart(document.getElementById('legendBox'), {
        type: 'line',
        data: {datasets: [{label: seriesName, data: [], borderColor: 'rgba(0,0,0,0.45)', borderWidth: 3.4}]},
        options: {
            responsive: false,
            animation: false,
            events: [],
            layout: {padding: {top: 9}},
            scales: {x: {display: false}, y: {display: false}},
            plugins: {
                tooltip: {enabled: false},
                legend: {
                    display: true,
                    position: 'top',
                    labels: {
                        usePointStyle: true,
                        pointStyle: 'line',
                        pointStyleWidth: 38,
                        color: '#000',
                        font: {size: 28},
                        padding: 10
                    }
                }
            }
        }
    });
}

// the superscript glyphs come from a local face, wait for it before drawing
document.fonts.load('25px SupGlyphs', '⁻⁵').then(drawAll, drawAll);
</script>
</body>
</html>
